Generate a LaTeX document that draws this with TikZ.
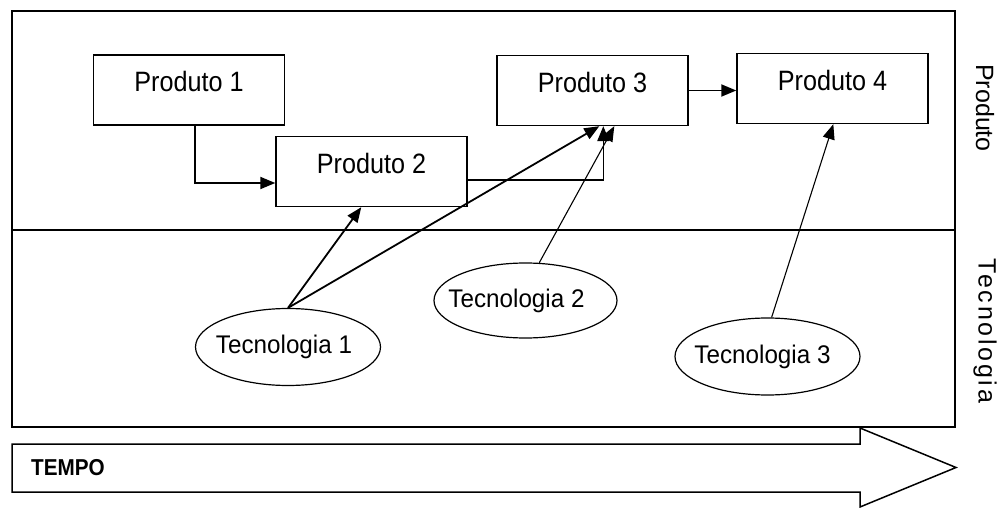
\documentclass[tikz,border=0pt]{standalone}
\usepackage{fontspec}
\setmainfont{Liberation Sans}
\newfontfamily\prodfont{Liberation Sans}[FakeStretch=0.9]
\newfontfamily\tecfont{Liberation Sans}[FakeStretch=0.95]
\newfontfamily\spacedfont{Liberation Sans}[LetterSpace=11]
\usetikzlibrary{arrows.meta,shapes.geometric,calc}
\begin{document}
\begin{tikzpicture}[x=1pt,y=-1pt,
  prodbox/.style={draw,line width=1.4pt,minimum width=191pt,minimum height=70pt,inner sep=0pt,
    font=\prodfont\fontsize{28}{32}\selectfont,text height=20pt,text depth=16pt},
  techell/.style={draw,ellipse,line width=1.2pt,minimum width=185pt,minimum height=77pt,inner sep=0pt},
  tectext/.style={font=\tecfont\fontsize{25.5}{30}\selectfont,inner sep=0pt},
  sidelabel/.style={rotate=-90,font=\fontsize{25}{30}\selectfont,inner sep=0pt},
  thickarrow/.style={line width=1.8pt,-{Triangle[length=15pt,width=12pt]}},
  thinarrow/.style={line width=1.1pt,-{Triangle[length=15pt,width=12pt]}},
  frameline/.style={line width=1.5pt}]
\useasboundingbox (0,0) rectangle (1002,508);
% frame
\draw[frameline] (12,11) rectangle (955,427);
\draw[frameline] (12,230) -- (955,230);
% side labels
\node[sidelabel] (lprod) at (985,108) {Produto};
\node[sidelabel,font=\spacedfont\fontsize{25}{30}\selectfont] (ltec) at (985,331) {Tecnologia};
% products
\node[prodbox] (p1) at (189,90) {Produto 1};
\node[prodbox] (p2) at (371.5,171.5) {Produto 2};
\node[prodbox] (p3) at (592.5,90.5) {Produto 3};
\node[prodbox] (p4) at (832.5,88.5) {Produto 4};
% technologies
\node[techell,label={[tectext,name=t1txt,xshift=-4pt]center:Tecnologia 1}] (t1) at (288,347) {};
\node[techell,minimum width=183pt,minimum height=75pt,label={[tectext,name=t2txt,xshift=-9pt]center:Tecnologia 2}] (t2) at (525.5,300.5) {};
\node[techell,label={[tectext,name=t3txt,xshift=-5pt]center:Tecnologia 3}] (t3) at (767.5,356.5) {};
% product connectors
\draw[thickarrow] ([xshift=6pt]p1.south) |- ([yshift=-11.5pt]p2.west);
\draw[line width=1.4pt,-{Triangle[length=15pt,width=12pt]}] ([yshift=-8.5pt]p2.east) -| ([xshift=107pt]p3.south west);
\draw[thickarrow] (p3.east) -- (p3.east -| p4.west);
% technology connectors
\draw[thickarrow] (t1.north) -- ([xshift=86pt]p2.south west);
\draw[thickarrow] (t1.north) -- ([xshift=103pt]p3.south west);
\draw[thinarrow] (t2.70) -- ([xshift=118pt]p3.south west);
\draw[thinarrow] (t3.84) -- ([xshift=97pt]p4.south west);
% time arrow
\draw[frameline] (12,444) -- (860,444) -- (860,428) -- (956,467.5) -- (860,507) -- (860,492) -- (12,492) -- cycle;
\node[anchor=west,inner sep=0pt,font=\prodfont\bfseries\fontsize{23}{26}\selectfont] (tempo) at (31,468) {TEMPO};
\end{tikzpicture}
\end{document}
